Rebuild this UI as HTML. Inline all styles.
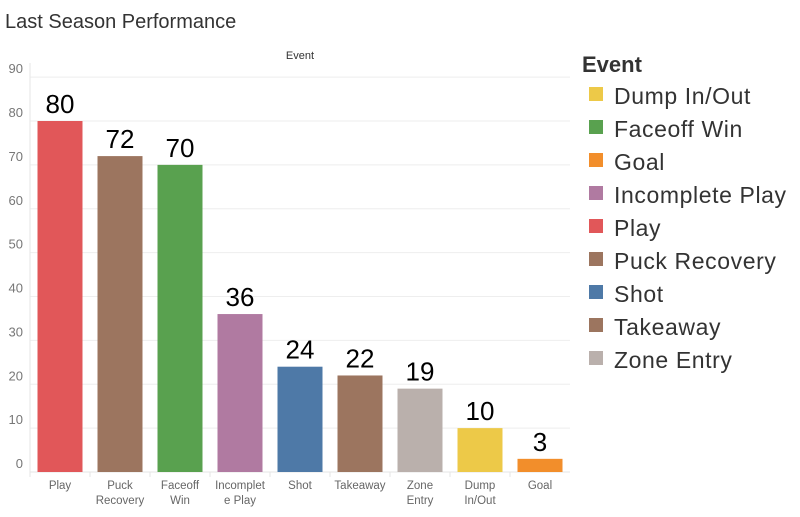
<!DOCTYPE html>
<html><head><meta charset="utf-8"><style>
body{margin:0;width:800px;height:512px;background:#fff;overflow:hidden;font-family:"Liberation Sans",sans-serif}
</style></head><body>
<svg id="c" width="800" height="512" xmlns="http://www.w3.org/2000/svg">
<text x="5" y="28" font-size="20" fill="#333">Last Season Performance</text>
<text x="300" y="59" font-size="11" fill="#333" text-anchor="middle">Event</text>
<text x="582" y="72" font-size="22" font-weight="bold" fill="#333">Event</text>
</svg>
<script>
const categories=["Play","Puck Recovery","Faceoff Win","Incomplete Play","Shot","Takeaway","Zone Entry","Dump In/Out","Goal"];
const labelLines=[["Play"],["Puck","Recovery"],["Faceoff","Win"],["Incomplet","e Play"],["Shot"],["Takeaway"],["Zone","Entry"],["Dump","In/Out"],["Goal"]];
const values=[80,72,70,36,24,22,19,10,3];
const colors=["#e15759","#9c755f","#59a14f","#b07aa1","#4e79a7","#9c755f","#bab0ac","#edc948","#f28e2b"];
const ticks=[0,10,20,30,40,50,60,70,80,90];
const legendNames=["Dump In/Out","Faceoff Win","Goal","Incomplete Play","Play","Puck Recovery","Shot","Takeaway","Zone Entry"];
const legendColors=["#edc948","#59a14f","#f28e2b","#b07aa1","#e15759","#9c755f","#4e79a7","#9c755f","#bab0ac"];
const svg=document.getElementById('c');
const NS="http://www.w3.org/2000/svg";
const x0=30,x1=570,y0=472,pxPer=351/80;
const y=v=>y0-v*pxPer;
const step=(x1-x0)/categories.length;
const xc=i=>x0+step*(i+0.5);
function mk(t,a,txt){const e=document.createElementNS(NS,t);for(const k in a)e.setAttribute(k,a[k]);if(txt!==undefined)e.textContent=txt;svg.appendChild(e);return e;}
ticks.forEach(t=>{
 const g=mk('line',{x1:x0,x2:x1,y1:y(t),y2:y(t),stroke:'#eeeeee','stroke-width':1});
 
 
 const l=mk('text',{x:x0-7,y:y(t)-4,'font-size':13,fill:'#777','text-anchor':'end'},t);
 
 
});
const ax=mk('line',{x1:x0,x2:x0,y1:63,y2:y0,stroke:'#e6e6e6'});


const bx=mk('line',{x1:x0,x2:x1,y1:y0,y2:y0,stroke:'#e6e6e6'});


categories.forEach((c,i)=>{
 const tk=mk('line',{x1:x0+step*i,x2:x0+step*i,y1:y0,y2:y0+5,stroke:'#e6e6e6'});
 
 
 const b=mk('rect',{x:xc(i)-22.5,y:y(values[i]),width:45,height:values[i]*pxPer,fill:colors[i]});
 
 
 const v=mk('text',{x:xc(i),y:y(values[i])-8,'font-size':26,fill:'#000','text-anchor':'middle'},values[i]);
 
 
 labelLines[i].forEach((ln,j)=>{
  const t=mk('text',{x:xc(i),y:489+j*15,'font-size':11.5,fill:'#666','text-anchor':'middle'},ln);
  
  
 });
});
legendNames.forEach((n,i)=>{
 const yy=87+i*33;
 const s=mk('rect',{x:589,y:yy,width:14,height:14,fill:legendColors[i]});
 
 
 const t=mk('text',{x:614,y:yy+17,'font-size':23,fill:'#333','letter-spacing':0.6},n);
 
 
});
</script>
</body></html>
